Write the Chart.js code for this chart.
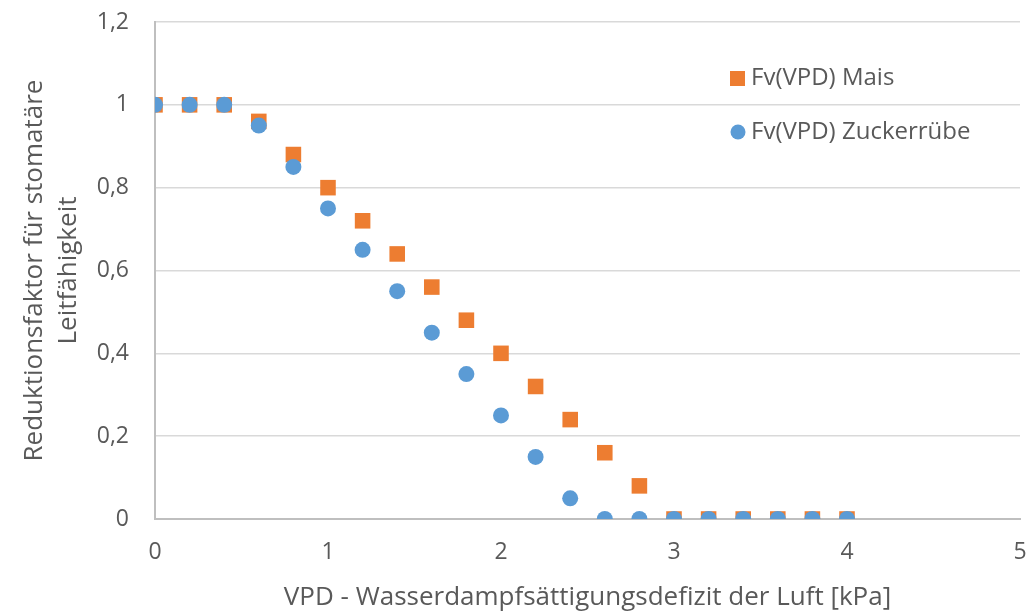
<!DOCTYPE html>
<html>
<head>
<meta charset="utf-8">
<script src="https://cdn.jsdelivr.net/npm/chart.js@4"></script>
<style>
  body { margin: 0; background: #fff; }
  #wrap { width: 1036px; height: 615px; }
</style>
</head>
<body>
<div id="wrap"><canvas id="myChart" width="1036" height="615"></canvas></div>
<script>
const vpd = [0, 0.2, 0.4, 0.6, 0.8, 1, 1.2, 1.4, 1.6, 1.8, 2, 2.2, 2.4, 2.6, 2.8, 3, 3.2, 3.4, 3.6, 3.8, 4];
const mais = [1, 1, 1, 0.96, 0.88, 0.8, 0.72, 0.64, 0.56, 0.48, 0.4, 0.32, 0.24, 0.16, 0.08, 0, 0, 0, 0, 0, 0];
const zucker = [1, 1, 1, 0.95, 0.85, 0.75, 0.65, 0.55, 0.45, 0.35, 0.25, 0.15, 0.05, 0, 0, 0, 0, 0, 0, 0, 0];
const seriesNames = ["Fv(VPD) Mais", "Fv(VPD) Zuckerrübe"];

const orange = "#ED7D31";
const blue = "#5B9BD5";
const textColor = "#595959";
const font = "'Open Sans', 'Noto Sans', sans-serif";

const ctx = document.getElementById("myChart").getContext("2d");

// legend drawn inside the plot, like in the excel chart
const innerLegend = {
  id: "innerLegend",
  afterDatasetsDraw(chart) {
    const c = chart.ctx;
    const items = [
      { name: seriesNames[0], color: orange, shape: "rect", y: 78 },
      { name: seriesNames[1], color: blue, shape: "circle", y: 132 },
    ];
    c.save();
    c.font = "24px " + font;
    c.textBaseline = "middle";
    items.forEach((it) => {
      c.fillStyle = it.color;
      if (it.shape === "rect") {
        c.fillRect(730, it.y - 7, 15, 15);
      } else {
        c.beginPath();
        c.arc(738, it.y, 7.5, 0, Math.PI * 2);
        c.fill();
      }
      c.fillStyle = textColor;
      c.fillText(it.name, 751, it.y);
    });
    c.restore();
  },
};

// no extra room for overhanging tick labels, plot area fixed by layout padding
function noOverhang(scale) {
  scale.paddingTop = 0;
  scale.paddingBottom = 0;
  scale.paddingLeft = 0;
  scale.paddingRight = 0;
}

new Chart(ctx, {
  type: "scatter",
  data: {
    datasets: [
      {
        label: seriesNames[0],
        data: vpd.map((x, i) => ({ x, y: mais[i] })),
        pointStyle: "rect",
        pointRadius: 11,
        backgroundColor: orange,
        borderColor: orange,
        borderWidth: 0,
        order: 2,
      },
      {
        label: seriesNames[1],
        data: vpd.map((x, i) => ({ x, y: zucker[i] })),
        pointStyle: "circle",
        pointRadius: 8,
        backgroundColor: blue,
        borderColor: blue,
        borderWidth: 0,
        order: 1,
      },
    ],
  },
  options: {
    responsive: false,
    animation: false,
    layout: { padding: { left: 0, right: 16, top: 22, bottom: 0 } },
    plugins: { legend: { display: false }, tooltip: { enabled: false } },
    scales: {
      x: {
        type: "linear",
        min: 0,
        max: 5,
        ticks: {
          stepSize: 1,
          color: textColor,
          font: { size: 23, family: font },
          padding: 20,
        },
        grid: { display: false, drawTicks: false },
        border: { color: "#BFBFBF", width: 2 },
        title: {
          display: true,
          text: "VPD - Wasserdampfsättigungsdefizit der Luft [kPa]",
          color: textColor,
          font: { size: 26, family: font, lineHeight: 1.2 },
          padding: { top: 0, bottom: 2 },
        },
        afterFit(scale) {
          scale.height = 96;
          noOverhang(scale);
        },
      },
      y: {
        min: 0,
        max: 1.2,
        ticks: {
          stepSize: 0.2,
          color: textColor,
          font: { size: 23, family: font },
          padding: 26,
          callback: (v) => Number(v.toFixed(1)).toString().replace(".", ","),
        },
        grid: {
          color: "#D9D9D9",
          drawTicks: false,
          lineWidth: 1.5,
        },
        border: { color: "#BFBFBF", width: 2 },
        title: {
          display: true,
          text: ["Reduktionsfaktor für stomatäre", "Leitfähigkeit"],
          color: textColor,
          font: { size: 26, family: font, lineHeight: 1.3 },
          padding: { top: 18, bottom: 0 },
        },
        afterFit(scale) {
          scale.width = 155;
          noOverhang(scale);
        },
      },
    },
  },
  plugins: [innerLegend],
});
</script>
</body>
</html>
